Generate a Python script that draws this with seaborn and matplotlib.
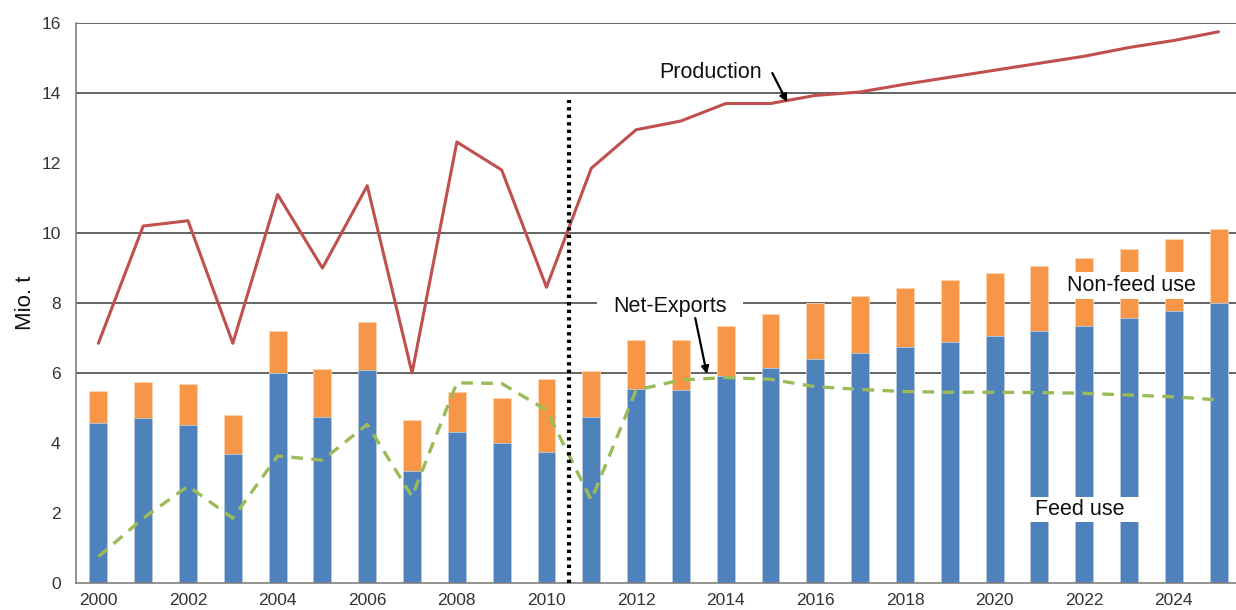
import numpy as np
import pandas as pd
import matplotlib
matplotlib.use("Agg")
import matplotlib.pyplot as plt
from matplotlib.patches import Rectangle
import seaborn as sns

years = list(range(2000, 2026))
feed_use = [4.56, 4.72, 4.51, 3.69, 5.99, 4.74, 6.09, 3.20, 4.31, 4.01, 3.75,
            4.74, 5.54, 5.51, 5.91, 6.13, 6.39, 6.57, 6.75, 6.90, 7.05,
            7.20, 7.34, 7.56, 7.78, 7.99]
total_use = [5.49, 5.73, 5.69, 4.81, 7.20, 6.12, 7.46, 4.67, 5.47, 5.29, 5.84,
             6.05, 6.93, 6.93, 7.33, 7.69, 8.00, 8.20, 8.43, 8.66, 8.86,
             9.06, 9.28, 9.53, 9.83, 10.11]
production = [6.85, 10.20, 10.35, 6.85, 11.10, 9.00, 11.35, 6.00, 12.60, 11.80, 8.45,
              11.85, 12.95, 13.20, 13.70, 13.70, 13.93, 14.03, 14.25, 14.45, 14.65,
              14.85, 15.05, 15.30, 15.50, 15.75]
net_exports = [0.75, 1.85, 2.77, 1.85, 3.63, 3.51, 4.53, 2.47, 5.72, 5.70, 4.94,
               2.37, 5.51, 5.80, 5.87, 5.82, 5.61, 5.53, 5.47, 5.45, 5.45,
               5.44, 5.42, 5.37, 5.32, 5.23]
year_labels = [str(y) if y % 2 == 0 else "" for y in years]
grid_levels = [6, 8, 10, 14, 16]
y_ticks = [0, 2, 4, 6, 8, 10, 12, 14, 16]

df = pd.DataFrame({"year": [str(y) for y in years], "pos": np.arange(len(years)),
                   "feed": feed_use, "total": total_use,
                   "production": production, "net": net_exports})

sns.set_style("white")
plt.rcParams["font.family"] = ["Liberation Sans", "DejaVu Sans"]

fig = plt.figure(figsize=(12.36, 6.10), dpi=100)
W, H = 1236, 610
ax = fig.add_axes([76 / W, (H - 583) / H, (1241 - 76) / W, 560 / H])

for lv in grid_levels:
    ax.axhline(lv, color="#4a4a4a", lw=1.2, zorder=0)

sns.barplot(data=df, x="year", y="total", color="#F79646", saturation=1,
            width=0.4, ax=ax, edgecolor="#FCD5B4", linewidth=0.6, zorder=2)
sns.barplot(data=df, x="year", y="feed", color="#4F81BD", saturation=1,
            width=0.4, ax=ax, edgecolor="#B8CCE4", linewidth=0.6, zorder=2)

sns.lineplot(data=df, x="pos", y="production", color="#C0504D", lw=2.2, ax=ax, zorder=4)
sns.lineplot(data=df, x="pos", y="net", color="#9BBB59", lw=2.4, ax=ax, zorder=4,
             linestyle=(0, (3.5, 2.5)))

# forecast divider
ax.plot([10.5, 10.5], [0, 13.8], color="black", lw=3, linestyle=(0, (0.8, 1.0)), zorder=5)

# white boxes behind labels
for (x0, x1, y0, y1) in [(20.75, 23.38, 1.74, 2.46), (21.5, 24.6, 8.11, 8.89),
                         (11.13, 14.39, 7.5, 8.2)]:
    ax.add_patch(Rectangle((x0, y0), x1 - x0, y1 - y0, facecolor="white",
                           edgecolor="none", zorder=6))

fs = 15.5
tc = "#111111"
ax.text(21.91, 2.09, "Feed use", ha="center", va="center", fontsize=fs, color=tc, zorder=7)
ax.text(23.05, 8.49, "Non-feed use", ha="center", va="center", fontsize=fs, color=tc, zorder=7)
ax.text(12.76, 7.9, "Net-Exports", ha="center", va="center", fontsize=fs, color=tc, zorder=7)
ax.text(13.67, 14.6, "Production", ha="center", va="center", fontsize=fs, color=tc, zorder=7)
arrow = dict(arrowstyle="-|>", color="black", lw=1.6, mutation_scale=11, shrinkA=0, shrinkB=0)
ax.annotate("", xy=(15.37, 13.74), xytext=(15.04, 14.57), arrowprops=arrow, zorder=7)
ax.annotate("", xy=(13.58, 5.97), xytext=(13.32, 7.57), arrowprops=arrow, zorder=7)

ax.set_xlim(-0.5, 25.5)
ax.set_ylim(0, 16)
ax.set_yticks(y_ticks)
ax.set_yticklabels([str(t) for t in y_ticks], fontsize=12.5, color="#333333")
ax.set_xticks(np.arange(len(years)))
ax.set_xticklabels(year_labels, fontsize=12.5, color="#333333")
ax.set_xticks(np.arange(len(years) + 1) - 0.5, minor=True)
ax.tick_params(axis="x", which="major", length=0, pad=7)
ax.tick_params(axis="x", which="minor", length=6, width=1, color="#808080", direction="out")
ax.tick_params(axis="y", which="major", length=6, width=1, color="#808080", direction="out", pad=5)
ax.set_xlabel("")
ax.set_ylabel("Mio. t", fontsize=16, labelpad=4, color="#111111")

for s in ["top", "right"]:
    ax.spines[s].set_visible(False)
ax.spines["left"].set_color("#808080")
ax.spines["bottom"].set_color("#808080")
ax.spines["left"].set_linewidth(1.2)
ax.spines["bottom"].set_linewidth(1.2)

fig.savefig("out.png", dpi=100)
